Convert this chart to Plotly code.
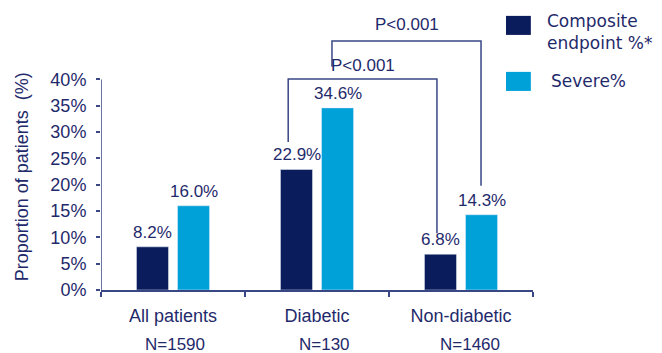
import plotly.graph_objects as go

# Data
categories = ["All patients", "Diabetic", "Non-diabetic"]
n_labels = ["N=1590", "N=130", "N=1460"]
composite = [8.2, 22.9, 6.8]
severe = [16.0, 34.6, 14.3]
series_names = ["Composite<br>endpoint %*", "Severe%"]
y_ticks = [0, 5, 10, 15, 20, 25, 30, 35, 40]
p_values = ["P<0.001", "P<0.001"]
y_title = "Proportion of patients  (%)"

DARK = "#0b1c5c"
LIGHT = "#00a0d8"
TEXT = "#1f2a6b"
LINE = "#3a4785"
FONT = "Liberation Sans, Arial, sans-serif"

fig = go.Figure()
fig.add_bar(x=categories, y=composite, name=series_names[0], marker_color=DARK,
            showlegend=False)
fig.add_bar(x=categories, y=severe, name=series_names[1], marker_color=LIGHT,
            showlegend=False)

annotations = []
# value labels above each bar (bar offset within group = +/- 20.5 px)
for vals, dx in ((composite, -20.5), (severe, 20.5)):
    for c, v in zip(categories, vals):
        annotations.append(dict(x=c, y=v, xref="x", yref="y", text=f"{v:.1f}%",
                                showarrow=False, xshift=dx, yanchor="bottom",
                                yshift=3, font=dict(size=17, color=TEXT, family=FONT)))

# sample size line under each category label
for i, (c, n) in enumerate(zip(categories, n_labels)):
    annotations.append(dict(x=c, y=0, xref="x", yref="paper", text=n,
                            showarrow=False, yanchor="middle", yshift=-54,
                            xshift=[2, 7, 9][i],
                            font=dict(size=17, color=TEXT, family=FONT)))

# y-axis title, centred on the 0-40% span
annotations.append(dict(x=0, y=(y_ticks[0] + y_ticks[-1]) / 2 + 1.4, xref="paper",
                        yref="y", text=y_title, textangle=-90, showarrow=False,
                        xanchor="center", yanchor="middle", xshift=-79,
                        font=dict(size=18, color=TEXT, family=FONT)))

shapes = []
# y-axis line, drawn only over the 0-40% span
shapes.append(dict(type="line", xref="x", yref="y", x0=-0.5, x1=-0.5, y0=0, y1=40,
                   line=dict(color=LINE, width=1.5)))

# significance brackets: (x_left, y_left_bottom, x_right, y_right_bottom, y_top, label shift)
brackets = [
    (0.80, 28.1, 1.833, 10.8, 40.1, 2),
    (1.104, 42.4, 2.139, 19.8, 47.3, 5),
]
for (xl, yl, xr, yr, yt, sh), p in zip(brackets, p_values):
    shapes.append(dict(type="path", xref="x", yref="y",
                       path=f"M {xl},{yl} L {xl},{yt} L {xr},{yt} L {xr},{yr}",
                       line=dict(color=LINE, width=1.5)))
    annotations.append(dict(x=(xl + xr) / 2, y=yt, xref="x", yref="y", text=p,
                            showarrow=False, yanchor="bottom", yshift=sh,
                            font=dict(size=17, color=TEXT, family=FONT)))

# legend drawn as swatches + labels
legend_items = [(series_names[0], DARK, 0.979, 0.911, 0.920, 1.028),
                (series_names[1], LIGHT, 0.779, 0.711, 0.746, 1.037)]
for name, col, y1, y0, ty, tx in legend_items:
    shapes.append(dict(type="rect", xref="paper", yref="paper", x0=0.9375, x1=0.995,
                       y0=y0, y1=y1, fillcolor=col, line=dict(width=0)))
    annotations.append(dict(x=tx, y=ty, xref="paper", yref="paper", text=name,
                            showarrow=False, xanchor="left", yanchor="middle",
                            align="left",
                            font=dict(size=17, color=TEXT, family="DejaVu Sans")))

fig.update_layout(
    width=662, height=353,
    margin=dict(l=101, r=129, t=10, b=63),
    paper_bgcolor="white", plot_bgcolor="white",
    barmode="group", bargap=0.43, bargroupgap=0.22,
    font=dict(family=FONT, size=17, color=TEXT),
    shapes=shapes, annotations=annotations,
    xaxis=dict(type="category", showline=True, linecolor=LINE, linewidth=1.5,
               ticks="outside", tickson="boundaries", ticklen=5, tickcolor=LINE,
               tickwidth=1.5, showgrid=False, tickfont=dict(size=18, color=TEXT),
               ticklabelstandoff=9, range=[-0.5, 2.5]),
    yaxis=dict(range=[0, 53.2], tickvals=y_ticks,
               ticktext=[f"{t}%" for t in y_ticks], showline=False,
               ticks="outside", ticklen=4, tickcolor=LINE, tickwidth=1.5,
               showgrid=False, zeroline=False,
               tickfont=dict(size=18, color=TEXT), ticklabelstandoff=6),
)

fig.write_html("out.html")
